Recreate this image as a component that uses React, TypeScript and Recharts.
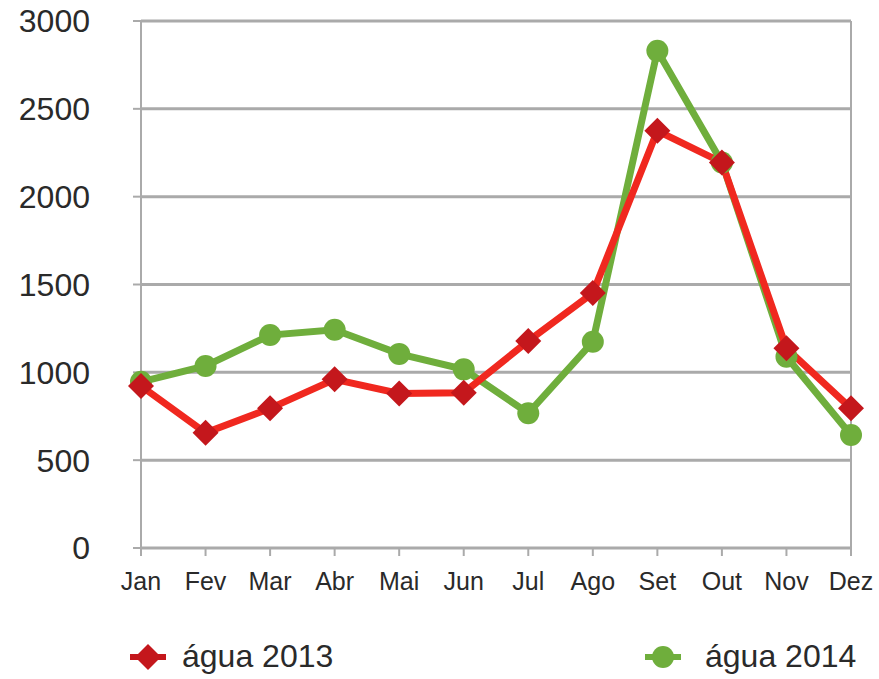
import { LineChart, Line, XAxis, YAxis, CartesianGrid, ReferenceLine } from "recharts";

const months = ["Jan", "Fev", "Mar", "Abr", "Mai", "Jun", "Jul", "Ago", "Set", "Out", "Nov", "Dez"];
const agua2013 = [922, 656, 795, 960, 880, 884, 1178, 1451, 2375, 2195, 1137, 795];
const agua2014 = [946, 1036, 1212, 1242, 1105, 1017, 767, 1174, 2830, 2195, 1089, 643];
const yTicks = [0, 500, 1000, 1500, 2000, 2500, 3000];
const seriesNames = ["água 2013", "água 2014"];

const data = months.map((m, i) => ({ month: m, a2013: agua2013[i], a2014: agua2014[i] }));

const RED_LINE = "#f0281f";
const RED_DOT = "#c4171c";
const GREEN = "#6fae3c";
const GRID = "#aaaaaa";
const FONT = "'Liberation Sans', Arial, sans-serif";

const Diamond = (props: any) => {
  const { cx, cy, index } = props;
  if (cx == null || cy == null) return null;
  const s = 13;
  return (
    <polygon
      key={"d" + index}
      points={`${cx},${cy - s} ${cx + s},${cy} ${cx},${cy + s} ${cx - s},${cy}`}
      fill={RED_DOT}
    />
  );
};

const Circle = (props: any) => {
  const { cx, cy, index } = props;
  if (cx == null || cy == null) return null;
  return <circle key={"c" + index} cx={cx} cy={cy} r={11} fill={GREEN} />;
};

export default function App() {
  return (
    <div style={{ position: "absolute", left: 0, top: 0, width: 879, height: 679, background: "#fff" }}>
      <LineChart
        width={879}
        height={679}
        data={data}
        margin={{ top: 21, right: 28, left: 0, bottom: 0 }}
      >
        <CartesianGrid vertical={false} stroke={GRID} strokeWidth={3} />
        <ReferenceLine x="Dez" stroke={GRID} strokeWidth={2} />
        <XAxis
          dataKey="month"
          height={131}
          stroke={GRID}
          strokeWidth={2}
          tickSize={8}
          tickMargin={16}
          tick={{ fill: "#2a2a2a", fontSize: 25, fontFamily: FONT }}
        />
        <YAxis
          width={141}
          domain={[0, 3000]}
          ticks={yTicks}
          stroke={GRID}
          strokeWidth={2}
          tickSize={8}
          tickMargin={43}
          tick={{ fill: "#2a2a2a", fontSize: 32, fontFamily: FONT }}
        />
        <Line
          dataKey="a2014"
          name={seriesNames[1]}
          stroke={GREEN}
          strokeWidth={7}
          dot={<Circle />}
          isAnimationActive={false}
        />
        <Line
          dataKey="a2013"
          name={seriesNames[0]}
          stroke={RED_LINE}
          strokeWidth={7}
          dot={<Diamond />}
          isAnimationActive={false}
        />
      </LineChart>
      <div style={{ position: "absolute", left: 128, top: 638, display: "flex", alignItems: "center", fontFamily: FONT, fontSize: 32, color: "#2a2a2a" }}>
        <svg width={40} height={30}>
          <line x1={2} y1={15} x2={38} y2={15} stroke={RED_DOT} strokeWidth={6} />
          <polygon points="20,2 33,15 20,28 7,15" fill={RED_DOT} />
        </svg>
        <span style={{ marginLeft: 14 }}>{seriesNames[0]}</span>
      </div>
      <div style={{ position: "absolute", left: 643, top: 638, display: "flex", alignItems: "center", fontFamily: FONT, fontSize: 32, color: "#2a2a2a" }}>
        <svg width={40} height={30}>
          <line x1={2} y1={15} x2={38} y2={15} stroke={GREEN} strokeWidth={6} />
          <circle cx={20} cy={15} r={11} fill={GREEN} />
        </svg>
        <span style={{ marginLeft: 22 }}>{seriesNames[1]}</span>
      </div>
    </div>
  );
}
